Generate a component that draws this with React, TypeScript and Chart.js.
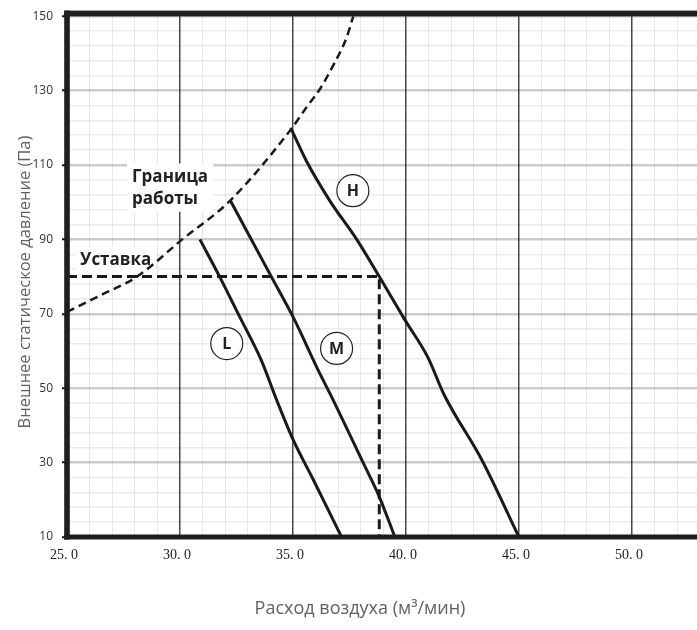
import React, { useEffect, useRef } from 'react';
import { Chart, registerables } from 'chart.js';

Chart.register(...registerables);

// ---- axis ranges & tick labels ----
const X_MIN = 25;
const X_MAX = 52.88;
const Y_MIN = 10;
const Y_MAX = 150;
const X_MAJOR_TICKS = [25, 30, 35, 40, 45, 50];
const X_TICK_LABELS = ['25. 0', '30. 0', '35. 0', '40. 0', '45. 0', '50. 0'];
const Y_MAJOR_TICKS = [10, 30, 50, 70, 90, 110, 130, 150];
const Y_TICK_LABELS = ['10', '30', '50', '70', '90', '110', '130', '150'];

// ---- series ----
const boundaryX = [25, 26.46, 28.1, 30.1, 32.2, 34.9, 35.6, 36.2, 36.8, 37.37, 37.67];
const boundaryY = [70.5, 74.9, 80, 90, 100.3, 119.5, 125.5, 130.5, 137, 144.2, 150];

const hX = [34.9, 35.6, 36.64, 37.82, 38.82, 39.96, 40.97, 41.7, 43.36, 45.0];
const hY = [120, 111, 100.3, 90, 80, 68.3, 58.3, 48.1, 30.7, 10];

const mX = [32.24, 34.06, 35.01, 36.12, 36.78, 38.11, 38.78, 39.51];
const mY = [100.3, 79.8, 69.1, 54.8, 46.8, 29.9, 21.4, 10];

const lX = [30.88, 31.77, 32.65, 33.6, 34.28, 35.01, 35.9, 37.15];
const lY = [90, 79.8, 69.1, 57.5, 46.8, 36.1, 25.4, 10];

const setpointX = [25, 38.82, 38.82];
const setpointY = [80, 80, 10];

// ---- annotations ----
const CURVE_LABELS = ['H', 'M', 'L'];
const CURVE_LABEL_X = [37.65, 36.93, 32.07];
const CURVE_LABEL_Y = [103.1, 60.7, 62.0];

const TEXT_BOXES = [
  { lines: ['Граница', 'работы'], x: 27.88, y: [105.3, 99.6] },
  { lines: ['Уставка'], x: 25.58, y: [83.0] },
];

const X_TITLE = 'Расход воздуха (м³/мин)';
const Y_TITLE = 'Внешнее статическое давление (Па)';

const zip = (xs: number[], ys: number[]) => xs.map((x, i) => ({ x, y: ys[i] }));

const annotPlugin = {
  id: 'annot',
  beforeDatasetsDraw(chart: any) {
    const { ctx, scales } = chart;
    const xs = scales.x;
    const ys = scales.y;
    ctx.save();
    ctx.font = 'bold 17px "Open Sans"';
    for (const b of TEXT_BOXES) {
      const left = xs.getPixelForValue(b.x);
      const bases = b.y.map((v: number) => ys.getPixelForValue(v));
      let w = 0;
      for (const l of b.lines) w = Math.max(w, ctx.measureText(l).width);
      ctx.fillStyle = '#ffffff';
      ctx.fillRect(left - 5, bases[0] - 19, w + 10, bases[bases.length - 1] - bases[0] + 27);
      ctx.fillStyle = '#222222';
      ctx.textAlign = 'left';
      ctx.textBaseline = 'alphabetic';
      b.lines.forEach((l: string, i: number) => ctx.fillText(l, left, bases[i]));
    }
    ctx.restore();
  },
  afterDraw(chart: any) {
    const { ctx, chartArea: ca, scales } = chart;
    const xs = scales.x;
    const ys = scales.y;
    ctx.save();
    // circles with letters
    CURVE_LABELS.forEach((t, i) => {
      const cx = xs.getPixelForValue(CURVE_LABEL_X[i]);
      const cy = ys.getPixelForValue(CURVE_LABEL_Y[i]);
      ctx.beginPath();
      ctx.arc(cx, cy, 16, 0, Math.PI * 2);
      ctx.fillStyle = '#ffffff';
      ctx.fill();
      ctx.lineWidth = 1.2;
      ctx.strokeStyle = '#222222';
      ctx.stroke();
      ctx.fillStyle = '#222222';
      ctx.font = 'bold 16px "Open Sans"';
      ctx.textAlign = 'center';
      ctx.textBaseline = 'middle';
      ctx.fillText(t, cx, cy + 1);
    });
    // frame
    ctx.fillStyle = '#1e1e1e';
    ctx.fillRect(ca.left - 2.8, ca.top - 5.6, ca.right - ca.left + 3, 5.8);
    ctx.fillRect(ca.left - 2.8, ca.top - 5.6, 5.6, ca.bottom - ca.top + 8.2);
    ctx.fillRect(ca.left - 2.8, ca.bottom - 2.5, ca.right - ca.left + 3, 5);
    // axis titles
    ctx.fillStyle = '#606060';
    ctx.textAlign = 'center';
    ctx.textBaseline = 'middle';
    ctx.font = '18px "Open Sans"';
    ctx.fillText(X_TITLE, 360, 609);
    ctx.font = '16.5px "Open Sans"';
    ctx.translate(25, 282);
    ctx.rotate(-Math.PI / 2);
    ctx.fillText(Y_TITLE, 0, 0);
    ctx.restore();
  },
};

export default function App() {
  const ref = useRef<HTMLCanvasElement | null>(null);
  useEffect(() => {
    if (!ref.current) return;
    const solid = (data: any[]) => ({
      data,
      borderColor: '#1a1a1a',
      borderWidth: 3,
      pointRadius: 0,
      fill: false,
      cubicInterpolationMode: 'monotone' as const,
    });
    const chart = new Chart(ref.current, {
      type: 'line',
      data: {
        datasets: [
          {
            ...solid(zip(boundaryX, boundaryY)),
            borderWidth: 2.5,
            borderDash: [8, 5],
          },
          solid(zip(hX, hY)),
          solid(zip(mX, mY)),
          solid(zip(lX, lY)),
          {
            data: zip(setpointX, setpointY),
            borderColor: '#1a1a1a',
            borderWidth: 3,
            borderDash: [10, 5],
            pointRadius: 0,
            tension: 0,
            fill: false,
          },
        ],
      },
      options: {
        animation: false,
        responsive: true,
        maintainAspectRatio: false,
        layout: { padding: { top: 15, left: 0, right: 0, bottom: 0 } },
        plugins: { legend: { display: false }, tooltip: { enabled: false } },
        scales: {
          x: {
            type: 'linear',
            min: X_MIN,
            max: X_MAX,
            border: { display: false },
            grid: {
              drawTicks: false,
              color: (c: any) => (X_MAJOR_TICKS.includes(c.tick?.value) ? 'rgba(40,40,40,0.85)' : 'rgba(0,0,0,0.09)'),
              lineWidth: (c: any) => (X_MAJOR_TICKS.includes(c.tick?.value) ? 1.5 : 1),
            },
            ticks: {
              stepSize: 1,
              autoSkip: false,
              includeBounds: false,
              maxRotation: 0,
              padding: 10,
              labelOffset: -3,
              color: '#222222',
              font: { family: '"Liberation Serif"', size: 14 },
              callback: (v: any) => {
                const i = X_MAJOR_TICKS.indexOf(Number(v));
                return i >= 0 ? X_TICK_LABELS[i] : '';
              },
            },
            afterFit: (s: any) => {
              s.height = 93;
            },
          },
          y: {
            type: 'linear',
            min: Y_MIN,
            max: Y_MAX,
            border: { display: false },
            grid: {
              color: (c: any) => (Y_MAJOR_TICKS.includes(c.tick?.value) ? 'rgba(0,0,0,0.2)' : 'rgba(0,0,0,0.08)'),
              lineWidth: (c: any) => (Y_MAJOR_TICKS.includes(c.tick?.value) ? 2.5 : 1.5),
              tickLength: 5,
              tickWidth: 2,
              tickColor: (c: any) => (Y_MAJOR_TICKS.includes(c.tick?.value) ? '#111111' : 'rgba(0,0,0,0)'),
            },
            ticks: {
              stepSize: 4,
              autoSkip: false,
              includeBounds: false,
              padding: 9,
              color: '#333333',
              font: { family: '"Open Sans"', size: 12 },
              callback: (v: any) => {
                const i = Y_MAJOR_TICKS.indexOf(Number(v));
                return i >= 0 ? Y_TICK_LABELS[i] : '';
              },
            },
            afterFit: (s: any) => {
              s.width = 67;
            },
          },
        },
      },
      plugins: [annotPlugin],
    });
    return () => chart.destroy();
  }, []);
  return (
    <div style={{ position: 'fixed', left: 0, top: 0, width: 697, height: 630, background: '#fff' }}>
      <canvas ref={ref} />
    </div>
  );
}
